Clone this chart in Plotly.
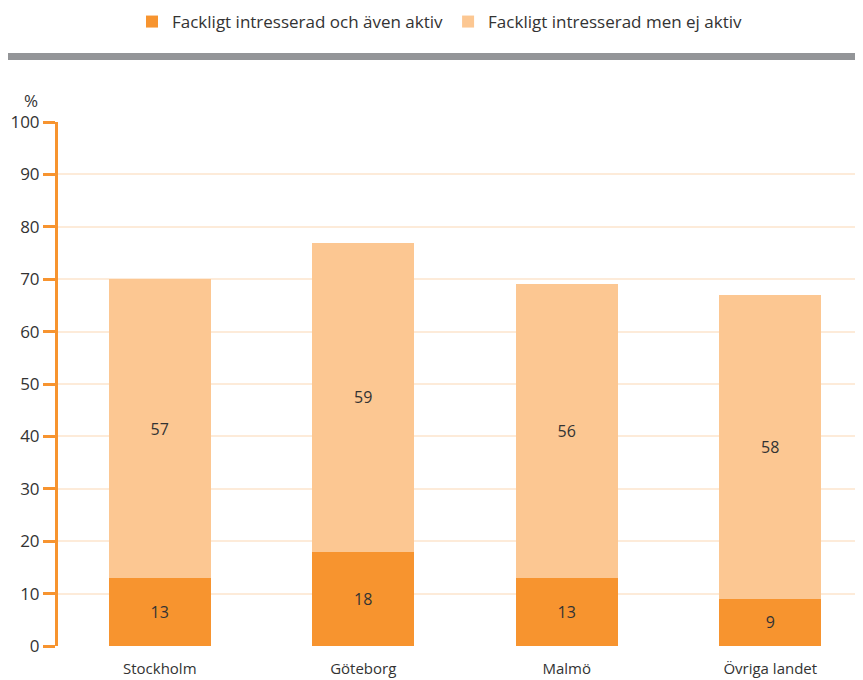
import plotly.graph_objects as go

categories = ["Stockholm", "Göteborg", "Malmö", "Övriga landet"]
active = [13, 18, 13, 9]
not_active = [57, 59, 56, 58]
series_names = ["Fackligt intresserad och även aktiv", "Fackligt intresserad men ej aktiv"]
y_ticks = [0, 10, 20, 30, 40, 50, 60, 70, 80, 90, 100]

OFF = 8  # page body margin
W, H = 863 - OFF, 680 - OFF
L, R, T, B = 58 - OFF, 0, 122 - OFF, 34
pw, ph = W - L - R, H - T - B

def px(x):
    return (x - OFF - L) / pw

def py(y):
    return (H - B - (y - OFF)) / ph

font = "Open Sans"
txt = "#333333"

fig = go.Figure()
fig.add_trace(go.Bar(x=categories, y=active, name=series_names[0], marker_color="#F7942F",
                     marker_line_width=0, text=active, textposition="inside",
                     insidetextanchor="middle", textfont=dict(size=16, color=txt, family=font),
                     width=0.5))
fig.add_trace(go.Bar(x=categories, y=not_active, name=series_names[1], marker_color="#FCC792",
                     marker_line_width=0, text=not_active, textposition="inside",
                     insidetextanchor="middle", textfont=dict(size=16, color=txt, family=font),
                     width=0.5))

fig.update_layout(
    width=W, height=H, barmode="stack",
    margin=dict(l=L, r=R, t=T, b=B, autoexpand=False),
    plot_bgcolor="white", paper_bgcolor="white",
    font=dict(family=font, color=txt, size=14),
    showlegend=True,
    legend=dict(orientation="h", x=px(440), xanchor="center", y=py(22), yanchor="middle",
                font=dict(size=17, color=txt, family=font), traceorder="normal",
                itemwidth=30, tracegroupgap=0),
    xaxis=dict(range=[-0.5, -0.5 + pw / 203.5], showgrid=False, showline=False, ticks="",
               ticklabelstandoff=12, tickfont=dict(size=15, color=txt)),
    yaxis=dict(range=[0, 100], tickvals=y_ticks, showgrid=True, gridcolor="#FDEBD9", gridwidth=1.5,
               showline=True, linecolor="#F7942F", linewidth=3, ticks="outside", ticklen=12,
               tickcolor="#F7942F", tickwidth=3, tickfont=dict(size=17, color=txt), zeroline=False),
    shapes=[dict(type="rect", xref="paper", yref="paper", x0=px(8), x1=1.0, y0=py(60), y1=py(53),
                 fillcolor="#939598", line_width=0)],
    annotations=[dict(text="%", xref="paper", yref="paper", x=px(40), y=py(101), xanchor="right",
                      yanchor="middle", showarrow=False, font=dict(size=17, color=txt))],
)

fig.write_html("out.html")
